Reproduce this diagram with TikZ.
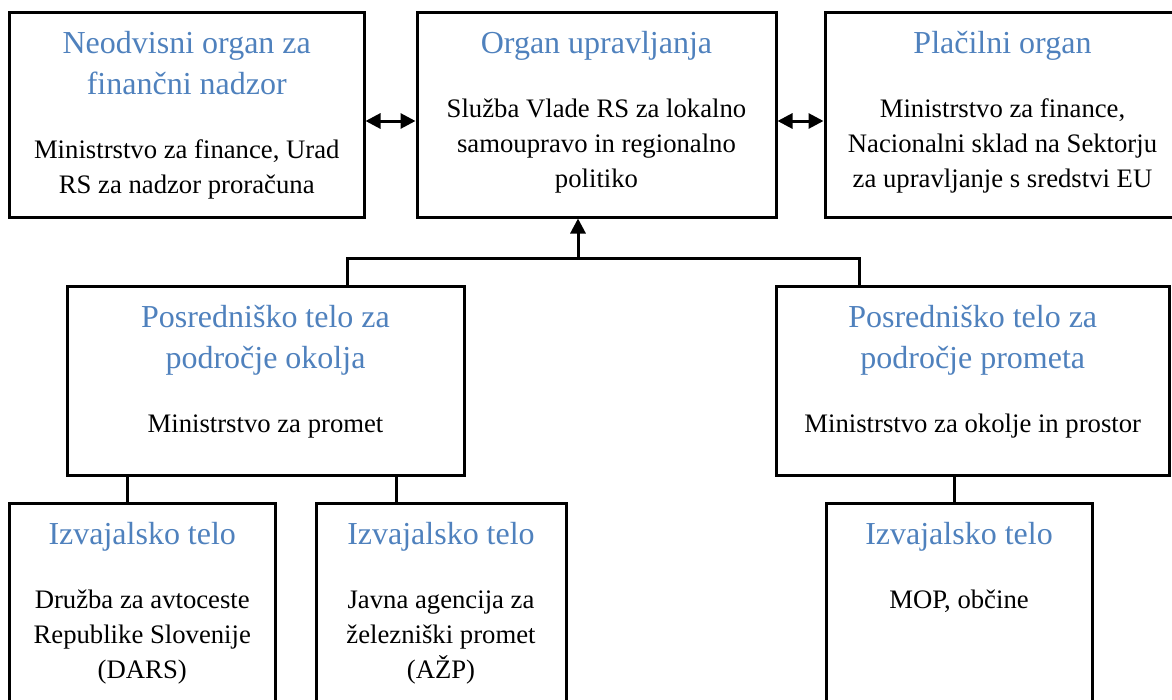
\documentclass[tikz,border=0pt]{standalone}
\usepackage{fontspec}
\setmainfont{Liberation Serif}
\usetikzlibrary{positioning,arrows.meta}
\definecolor{orgblue}{HTML}{4F81BD}
\newcommand{\ttlstrut}{\rule[-12.3pt]{0pt}{41pt}}
\newcommand{\txtstrut}{\rule[-10.5pt]{0pt}{35pt}}

\begin{document}
\begin{tikzpicture}[x=1pt, y=-1pt,
  box/.style={draw, line width=3pt, inner sep=0pt, outer sep=0pt},
  ttl/.style={align=flush center, text width=400pt, inner sep=0pt, outer sep=0pt, text=orgblue, font=\fontsize{32}{41}\selectfont, execute at begin node=\ttlstrut, execute at end node=\ttlstrut},
  txt/.style={align=flush center, text width=400pt, inner sep=0pt, outer sep=0pt, font=\fontsize{26.7}{35}\selectfont, execute at begin node=\txtstrut, execute at end node=\txtstrut},
  link/.style={line width=3pt},
  onearrow/.style={line width=3pt, -{Triangle[length=15pt,width=15pt]}, shorten >=1.5pt},
  twoarrow/.style={line width=3pt, {Triangle[length=15pt,width=15pt]}-{Triangle[length=15pt,width=15pt]}, shorten >=1.5pt, shorten <=1.5pt}]
\clip (0,0) rectangle (1172,699);
\node[box, minimum width=354.5pt, minimum height=205pt] (neo) at (186.75,114.5) {};
\node[box, minimum width=359pt, minimum height=205pt] (org) at (596.5,114.5) {};
\node[box, minimum width=355pt, minimum height=205pt] (pla) at (1002.5,114.5) {};
\node[box, minimum width=397pt, minimum height=189pt] (pok) at (265.5,380.5) {};
\node[box, minimum width=393.5pt, minimum height=189pt] (ppr) at (972.75,380.5) {};
\node[box, minimum width=265.5pt, minimum height=209pt] (izv1) at (142.25,607.5) {};
\node[box, minimum width=250pt, minimum height=209pt] (izv2) at (441,607.5) {};
\node[box, minimum width=266pt, minimum height=209pt] (izv3) at (959,607.5) {};
\node[ttl, below=12.3pt of neo.north] (neot) {Neodvisni organ za\\finančni nadzor};
\node[txt, below=27.2pt of neot] (neob) {Ministrstvo za finance, Urad\\RS za nadzor proračuna};
\node[ttl, below=12.3pt of org.north] (orgt) {Organ upravljanja};
\node[txt, below=27.2pt of orgt] (orgb) {Služba Vlade RS za lokalno\\samoupravo in regionalno\\politiko};
\node[ttl, below=12.3pt of pla.north] (plat) {Plačilni organ};
\node[txt, below=27.2pt of plat] (plab) {Ministrstvo za finance,\\Nacionalni sklad na Sektorju\\za upravljanje s sredstvi EU};
\node[ttl, below=12.3pt of pok.north] (pokt) {Posredniško telo za\\področje okolja};
\node[txt, below=27.2pt of pokt] (pokb) {Ministrstvo za promet};
\node[ttl, below=12.3pt of ppr.north] (pprt) {Posredniško telo za\\področje prometa};
\node[txt, below=27.2pt of pprt] (pprb) {Ministrstvo za okolje in prostor};
\node[ttl, below=12.3pt of izv1.north] (izv1t) {Izvajalsko telo};
\node[txt, below=27.2pt of izv1t] (izv1b) {Družba za avtoceste\\Republike Slovenije\\(DARS)};
\node[ttl, below=12.3pt of izv2.north] (izv2t) {Izvajalsko telo};
\node[txt, below=27.2pt of izv2t] (izv2b) {Javna agencija za\\železniški promet\\(AŽP)};
\node[ttl, below=12.3pt of izv3.north] (izv3t) {Izvajalsko telo};
\node[txt, below=27.2pt of izv3t] (izv3b) {MOP, občine};
\coordinate (jn) at (578,258);
\coordinate (jl) at (347,258);
\coordinate (jr) at (859,258);
\coordinate (d1) at (127,490);
\coordinate (d2) at (396,490);
\coordinate (e1) at (954,490);
\draw[link] (pok.north -| jl) -- (jl) -- (jr) -- (ppr.north -| jr);
\draw[onearrow] (jn) -- (org.south -| jn);
\draw[twoarrow] ([yshift=-6.5pt]neo.east) -- ([yshift=-6.5pt]org.west);
\draw[twoarrow] ([yshift=-6.5pt]org.east) -- ([yshift=-6.5pt]pla.west);
\draw[link] (pok.south -| d1) -- (izv1.north -| d1);
\draw[link] (pok.south -| d2) -- (izv2.north -| d2);
\draw[link] (ppr.south -| e1) -- (izv3.north -| e1);
\end{tikzpicture}
\end{document}
